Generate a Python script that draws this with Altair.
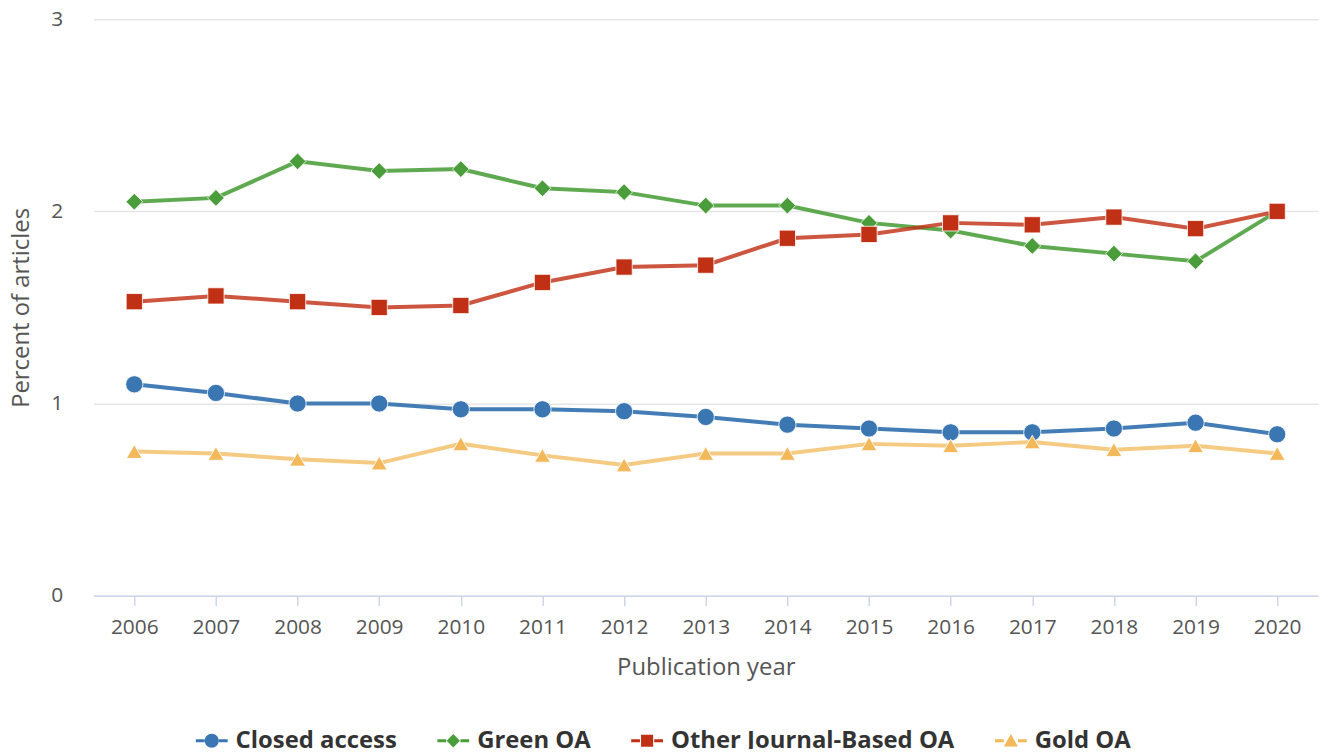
import altair as alt
import pandas as pd

years = list(range(2006, 2021))
series_names = ["Closed access", "Green OA", "Other Journal-Based OA", "Gold OA"]
closed_access = [1.10, 1.055, 1.00, 1.00, 0.97, 0.97, 0.96, 0.93, 0.89, 0.87, 0.85, 0.85, 0.87, 0.90, 0.84]
green_oa = [2.05, 2.07, 2.26, 2.21, 2.22, 2.12, 2.10, 2.03, 2.03, 1.94, 1.90, 1.82, 1.78, 1.74, 2.00]
other_oa = [1.53, 1.56, 1.53, 1.50, 1.51, 1.63, 1.71, 1.72, 1.86, 1.88, 1.94, 1.93, 1.97, 1.91, 2.00]
gold_oa = [0.75, 0.74, 0.71, 0.69, 0.79, 0.73, 0.68, 0.74, 0.74, 0.79, 0.78, 0.80, 0.76, 0.78, 0.74]

colors = ["#3a76b2", "#4a9d3a", "#c03015", "#f2b85a"]
shapes = ["circle", "diamond", "square", "triangle-up"]
sizes = [300, 250, 280, 240]
line_opac = [0.95, 0.75, 0.75, 0.75]

rows = []
for name, vals in zip(series_names, [closed_access, green_oa, other_oa, gold_oa]):
    for y, v in zip(years, vals):
        rows.append({"year": str(y), "value": v, "series": name})
df = pd.DataFrame(rows)

# legend symbol paths (short line + marker)
seg = "M-1,-0.09H-0.45V0.09H-1Z M0.45,-0.09H1V0.09H0.45Z "
leg_paths = [
    seg + "M-0.44,0A0.44,0.44,0,1,0,0.44,0A0.44,0.44,0,1,0,-0.44,0Z",
    seg + "M0,-0.42L0.42,0L0,0.42L-0.42,0Z",
    seg + "M-0.38,-0.38H0.38V0.38H-0.38Z",
    seg + "M0,-0.42L0.44,0.36H-0.44Z",
]

color_scale = alt.Scale(domain=series_names, range=colors)

legend = alt.Legend(
    title=None,
    orient="none",
    direction="horizontal",
    legendX=103,
    legendY=710,
    labelFont="Open Sans",
    labelFontSize=24,
    labelFontWeight="bold",
    labelColor="#333333",
    labelLimit=500,
    labelOffset=8,
    symbolSize=1024,
    symbolStrokeWidth=0,
    symbolOpacity=1,
)

x_enc = alt.X(
    "year:O",
    title="Publication year",
    sort=[str(y) for y in years],
    axis=alt.Axis(
        labelAngle=0,
        grid=False,
        domainColor="#ccd6eb",
        domainWidth=1.5,
        tickColor="#ccd6eb",
        tickWidth=1.5,
        tickSize=10,
        labelPadding=11,
        labelFont="Open Sans",
        labelFontSize=21,
        labelColor="#555555",
        titleFont="Open Sans",
        titleFontSize=24,
        titleFontWeight="normal",
        titleColor="#555555",
        titlePadding=18,
    ),
)
y_enc = alt.Y(
    "value:Q",
    title="Percent of articles",
    scale=alt.Scale(domain=[0, 3], nice=False),
    axis=alt.Axis(
        values=[0, 1, 2, 3],
        domain=False,
        ticks=False,
        grid=True,
        gridColor="#e6e6e6",
        gridWidth=1.5,
        labelPadding=31,
        labelFont="Open Sans",
        labelFontSize=21,
        labelColor="#555555",
        titleFont="Open Sans",
        titleFontSize=24,
        titleFontWeight="normal",
        titleColor="#555555",
        titlePadding=17,
    ),
)

lines = alt.Chart(df).mark_line(strokeWidth=4).encode(
    x=x_enc,
    y=y_enc,
    color=alt.Color("series:N", scale=color_scale, sort=series_names, legend=None),
    opacity=alt.Opacity("series:N", scale=alt.Scale(domain=series_names, range=line_opac), legend=None),
    detail="series:N",
)

points = alt.Chart(df).mark_point(filled=True, stroke="white", strokeWidth=1, opacity=1).encode(
    x=x_enc,
    y=y_enc,
    color=alt.Color("series:N", scale=color_scale, sort=series_names, legend=None),
    shape=alt.Shape("series:N", scale=alt.Scale(domain=series_names, range=shapes), legend=None),
    size=alt.Size("series:N", scale=alt.Scale(domain=series_names, range=sizes), legend=None),
    strokeOpacity=alt.value(0.8),
)

legend_layer = alt.Chart(df).mark_point(filled=True, opacity=0, strokeWidth=0).encode(
    x=x_enc,
    y=y_enc,
    fill=alt.Fill("series:N", scale=alt.Scale(domain=series_names, range=colors), sort=series_names, legend=legend),
    shape=alt.Shape("series:N", scale=alt.Scale(domain=series_names, range=leg_paths), sort=series_names, legend=legend),
)

chart = alt.layer(lines, points, legend_layer).resolve_scale(
    opacity="independent", shape="independent", fill="independent"
).properties(
    width=1232,
    height=580,
    background="white",
    autosize=alt.AutoSizeParams(type="none"),
    padding={"left": 86, "top": 9, "right": 2, "bottom": 152},
).configure_view(stroke=None).configure_legend(columnPadding=40, padding=0)

chart.save("out.html", embed_options={"renderer": "svg", "actions": False})
